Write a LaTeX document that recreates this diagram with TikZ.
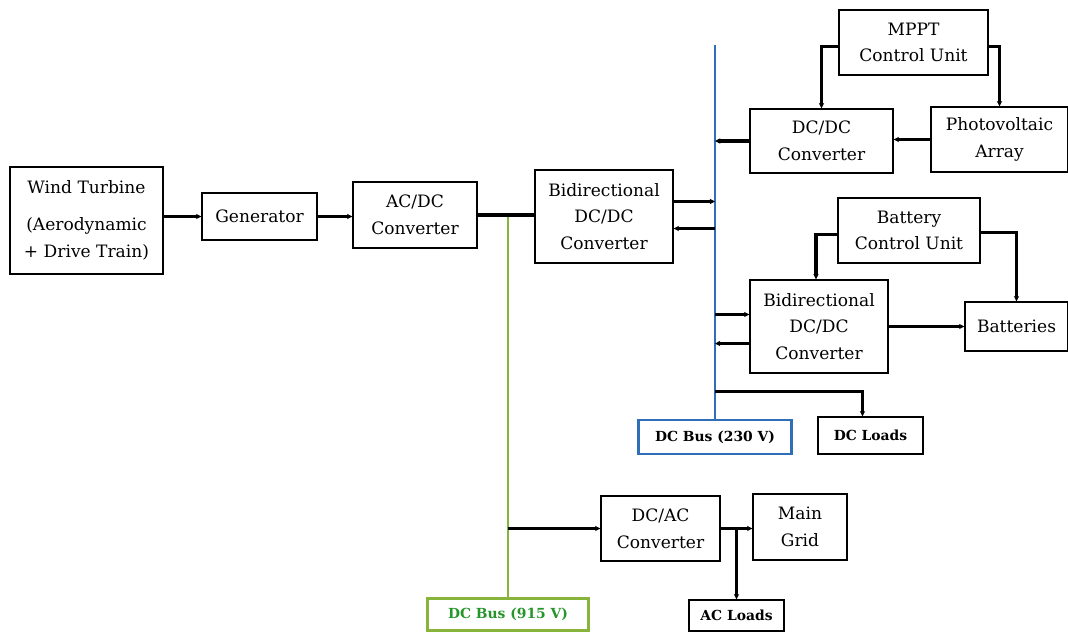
\documentclass[tikz,border=0pt]{standalone}
\usepackage{fontspec}
\setmainfont{DejaVu Serif}
\usetikzlibrary{arrows.meta,calc,positioning}
\definecolor{busblue}{RGB}{48,110,184}
\definecolor{busgreen}{RGB}{136,180,60}
\definecolor{textgreen}{RGB}{38,150,42}

\tikzset{
    sz/.style 2 args={minimum width=#1*0.75pt, minimum height=#2*0.75pt},
    blk/.style={draw, line width=1pt, align=center, inner sep=1pt,
        font=\fontsize{12.8}{20}\selectfont},
    lbl/.style={draw, line width=1.8pt, inner sep=1pt,
        font=\bfseries\fontsize{10.4}{12}\selectfont},
    link/.style={line width=2.4pt},
    arr/.style={link, -{Stealth[length=4pt,width=4pt]}},
    busline/.style={line width=1.7pt},
}

\begin{document}
\begin{tikzpicture}[x=0.75pt,y=-0.75pt]
    \useasboundingbox (0,0) rectangle (1068,632);

    % Wind chain
    \node[blk, sz={153}{107}] (wind) at (86.5,220.5) {Wind Turbine\\[8pt](Aerodynamic\\+ Drive Train)};
    \node[blk, sz={115}{47}] (gen) at (259.5,216.5) {Generator};
    \node[blk, sz={124}{66}] (acdc) at (415,215) {AC/DC\\Converter};
    \node[blk, sz={138}{93}] (bdc1) at (604,216.5) {Bidirectional\\DC/DC\\Converter};

    % 230 V side
    \node[blk, sz={149}{65}] (mppt) at (913.5,42.5) {MPPT\\Control Unit};
    \node[blk, sz={143}{64}] (dcdc2) at (821.5,141) {DC/DC\\Converter};
    \node[blk, sz={137}{65}] (pv) at (999.5,139.5) {Photovoltaic\\Array};
    \node[blk, sz={142}{65}] (bcu) at (909,230.5) {Battery\\Control Unit};
    \node[blk, sz={138}{93}] (bdc3) at (819,326.5) {Bidirectional\\DC/DC\\Converter};
    \node[blk, sz={103}{49}] (batt) at (1016.5,326.5) {Batteries};
    \node[lbl, draw=busblue, sz={153}{34}] (busA) at (715,437) {DC Bus (230 V)};
    \node[lbl, line width=1pt, sz={105}{37}] (dcload) at (870.5,435.5) {DC Loads};

    % 915 V side
    \node[lbl, draw=busgreen, text=textgreen, sz={161}{32}] (busB) at (508,614.5) {DC Bus (915 V)};
    \node[blk, sz={119}{65}] (dcac) at (660.5,528.5) {DC/AC\\Converter};
    \node[blk, sz={94}{66}] (grid) at (800,527) {Main\\Grid};
    \node[lbl, line width=1pt, sz={95}{31}] (acload) at (736.5,615.5) {AC Loads};

    % Bus taps
    \coordinate (bustop) at (715,45);
    \coordinate (gj) at (acdc.east -| busB.north);
    \coordinate (dctap) at ($(busA.north)+(0,-27)$);

    % Buses
    \draw[busline, busblue] (bustop) -- (busA.north);
    \draw[busline, busgreen] (gj) -- (busB.north);

    % Wind chain links
    \draw[arr] (wind.east |- gen.west) -- (gen.west);
    \draw[arr] (gen.east) -- (gen.east -| acdc.west);
    \draw[link] (acdc.east) -- (acdc.east -| bdc1.west);
    \draw[arr] ($(bdc1.east)+(0,-15)$) -- ($(bdc1.east -| bustop)+(0,-15)$);
    \draw[arr] ($(bdc1.east -| bustop)+(0,12)$) -- ($(bdc1.east)+(0,12)$);

    % PV branch
    \draw[arr] (dcdc2.west) -- (dcdc2.west -| bustop);
    \draw[arr] (pv.west) -- (pv.west -| dcdc2.east);
    \draw[arr] ($(mppt.west)+(0,4)$) -| (dcdc2.north);
    \draw[arr] ($(mppt.east)+(0,4)$) -| (pv.north);

    % Battery branch
    \draw[arr] ($(bcu.west)+(0,4)$) -| ($(bdc3.north)+(-3,0)$);
    \draw[arr] ($(bcu.east)+(0,2)$) -| (batt.north);
    \draw[arr] ($(bdc3.west -| bustop)+(0,-12)$) -- ($(bdc3.west)+(0,-12)$);
    \draw[arr] ($(bdc3.west)+(0,17)$) -- ($(bdc3.west -| bustop)+(0,17)$);
    \draw[arr] (bdc3.east) -- (bdc3.east -| batt.west);

    % DC loads
    \draw[arr] (dctap) -| ($(dcload.north)+(-8,0)$);

    % AC side
    \draw[arr] (dcac.west -| gj) -- (dcac.west);
    \draw[arr] (dcac.east) -- (dcac.east -| grid.west);
    \draw[arr] (dcac.east -| acload.north) -- (acload.north);
\end{tikzpicture}
\end{document}
